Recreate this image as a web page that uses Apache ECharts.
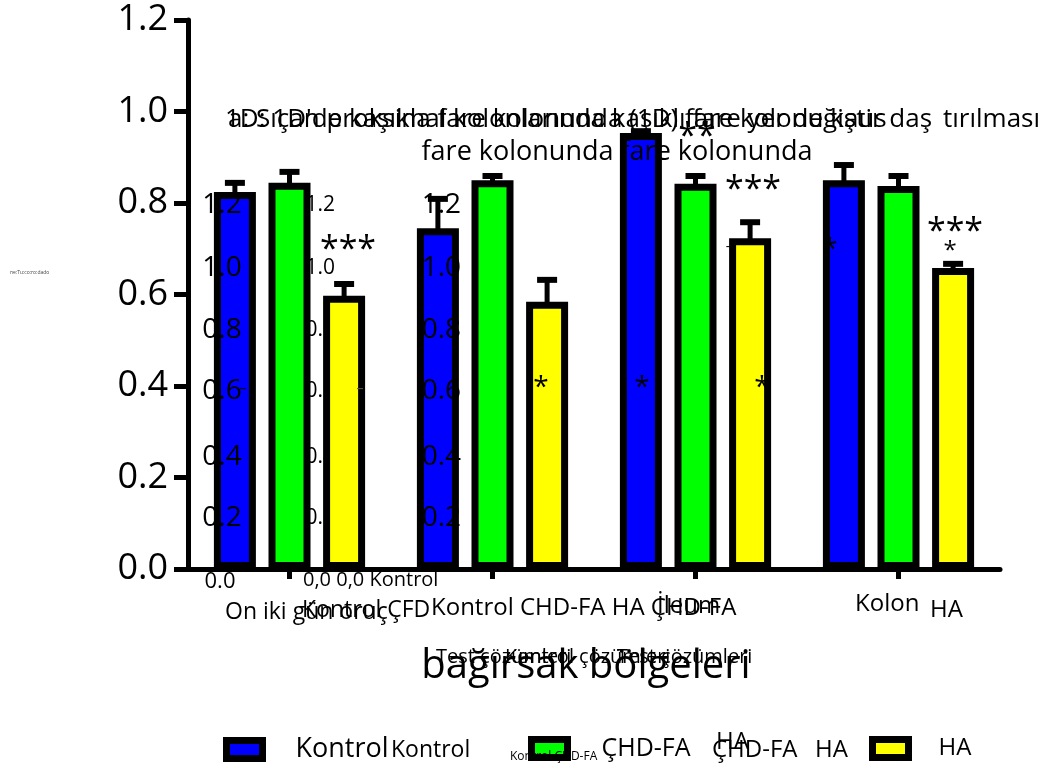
<!DOCTYPE html>
<html>
<head>
<meta charset="utf-8">
<script src="https://cdn.jsdelivr.net/npm/echarts@6/dist/echarts.min.js"></script>
<style>
  html, body { margin: 0; padding: 0; background: #fff; }
  #chart { width: 1055px; height: 768px; }
</style>
</head>
<body>
<div id="chart"></div>
<script>
// Bölge kategorileri ve seri adları
const categories = ['On iki gün oruç', 'Kontrol CHD-FA HA ÇHD-FA', 'İleum', 'Kolon'];
const seriesNames = ['Kontrol', 'ÇHD-FA', 'HA'];
const seriesColors = ['#0000ff', '#00ff00', '#ffff00'];

// Ortalama değerler ve hata çubukları (yalnızca yukarı)
const kontrolMean = [0.824, 0.745, 0.953, 0.85];
const kontrolErr  = [0.02, 0.064, 0.004, 0.033];
const chdMean     = [0.844, 0.85, 0.842, 0.837];
const chdErr      = [0.024, 0.009, 0.017, 0.022];
const haMean      = [0.597, 0.584, 0.723, 0.658];
const haErr       = [0.026, 0.048, 0.035, 0.009];

// Y ekseni
const yMin = 0, yMax = 1.2, yStep = 0.2;

// İç içe geçmiş yardımcı etiket sütunları
const ghostTicksA = ['1.2', '1.0', '0.8', '0.6', '0.4', '0.2'];
const ghostTicksB = ['1.2', '1.0', '0.8', '0.5', '0.4', '0.2'];

const FONT = '"Open Sans", "Noto Sans", sans-serif';
const BAR_W = 42, BAR_GAP = 0.30;

const means = [kontrolMean, chdMean, haMean];
const errs = [kontrolErr, chdErr, haErr];

function txt(text, x, y, size, opt) {
  opt = opt || {};
  const align = opt.align || 'left';
  return {
    type: 'text', x: x, y: y, z: opt.z != null ? opt.z : 100,
    silent: true,
    style: {
      text: text, x: 0, y: 0,
      font: size + 'px ' + FONT,
      fill: opt.color || '#000',
      align: align, textAlign: align,
      verticalAlign: 'middle', textVerticalAlign: 'middle'
    }
  };
}

const barSeries = seriesNames.map((name, s) => ({
  name: name,
  type: 'bar',
  data: means[s],
  barWidth: BAR_W,
  barGap: (BAR_GAP * 100) + '%',
  z: 2,
  itemStyle: { color: seriesColors[s], borderColor: '#000', borderWidth: 7 }
}));

const errSeries = seriesNames.map((name, s) => ({
  name: name,
  type: 'custom',
  z: 3,
  silent: true,
  encode: { x: 0, y: 1 },
  data: means[s].map((v, i) => [i, v, errs[s][i]]),
  renderItem: function (params, api) {
    const i = api.value(0), v = api.value(1), e = api.value(2);
    const base = api.coord([i, v]);
    const top = api.coord([i, v + e]);
    const x = base[0] + (s - 1) * BAR_W * (1 + BAR_GAP);
    return {
      type: 'group',
      children: [
        { type: 'line', shape: { x1: x, y1: base[1] + 3, x2: x, y2: top[1] },
          style: { stroke: '#000', lineWidth: 5 } },
        { type: 'line', shape: { x1: x - 10, y1: top[1], x2: x + 10, y2: top[1] },
          style: { stroke: '#000', lineWidth: 6 } }
      ]
    };
  }
}));

// Serbest metinler
const texts = [];
// başlık satırları
texts.push(txt("1D: 1D'de kaşıkla fare kolonunda (1D) fare kolonu kaus", 225, 120, 26));
texts.push(txt('a: Sıçan proksimal kolonlarında kaşıklı fare yer değiştir daş', 228, 120, 26));
texts.push(txt('tırılması', 943, 120, 26));
texts.push(txt('fare kolonunda fare kolonunda', 617, 152, 27, { align: 'center' }));
// yıldızlar
texts.push(txt('***', 348, 250, 34, { align: 'center' }));
texts.push(txt('**', 697, 137, 34, { align: 'center' }));
texts.push(txt('***', 753, 190, 34, { align: 'center' }));
texts.push(txt('***', 955, 232, 34, { align: 'center' }));
texts.push(txt('*', 950, 251, 24, { align: 'center' }));
texts.push(txt('*', 541, 388, 28, { align: 'center' }));
texts.push(txt('*', 642, 388, 28, { align: 'center' }));
texts.push(txt('*', 762, 388, 28, { align: 'center' }));
texts.push(txt('*', 830, 250, 28, { align: 'center' }));
texts.push(txt('-', 728, 247, 14, { align: 'center' }));
// iç etiket sütunları
const ghostY = [205, 268, 330, 391, 457, 518];
ghostTicksA.forEach((t, k) => texts.push(txt(t, 222, ghostY[k], 28, { align: 'center' })));
ghostTicksB.forEach((t, k) => texts.push(txt(t, 335, ghostY[k], 21, { align: 'right', z: 0 })));
ghostTicksA.forEach((t, k) => texts.push(txt(t, 461, ghostY[k], 28, { align: 'right' })));
texts.push(txt('–', 243, 389, 14, { align: 'center' }));
texts.push(txt('–', 360, 389, 14, { align: 'center', color: '#555' }));
texts.push(txt('ne:Tu:co:ro:dado', 10, 273, 5, { color: '#444' }));
// eksen altı etiketleri
texts.push(txt('0.0', 220, 582, 22, { align: 'center' }));
texts.push(txt('0,0 0,0 Kontrol', 303, 580, 20));
texts.push(txt(categories[0], 225, 612, 23));
texts.push(txt('Kontrol ÇFD', 302, 610, 23));
texts.push(txt(categories[1], 431, 608, 24));
texts.push(txt(categories[2], 657, 606, 24));
texts.push(txt(categories[3], 855, 604, 24));
texts.push(txt('HA', 930, 610, 24));
// eksen başlığı
texts.push(txt('Test çözümleri', 436, 657, 20));
texts.push(txt('Kontrol çözümleri', 505, 657, 20));
texts.push(txt('Test çözümleri', 617, 657, 20));
texts.push(txt('bağırsak bölgeleri', 586, 667, 40, { align: 'center' }));
// gösterge yanı metinler
texts.push(txt('Kontrol', 391, 750, 23));
texts.push(txt('Kontrol ÇHD-FA', 510, 757, 12));
texts.push(txt('ÇHD-FA', 712, 750, 24));
texts.push(txt('HA', 716, 742, 24));
texts.push(txt('HA', 815, 750, 24));

function legendFor(name, left, pad, size) {
  return {
    data: [name], left: left, top: 736, padding: 0,
    icon: 'rect', itemWidth: 36, itemHeight: 18,
    selectedMode: false,
    itemStyle: { borderColor: '#000', borderWidth: 7, borderRadius: 2 },
    formatter: '{t|{name}}',
    textStyle: {
      rich: { t: { fontSize: size, fontFamily: FONT, color: '#000', padding: [0, 0, 0, pad], lineHeight: 24 } }
    }
  };
}

const chart = echarts.init(document.getElementById('chart'), null, { renderer: 'canvas' });
chart.setOption({
  animation: false,
  backgroundColor: '#fff',
  grid: { left: 188, right: 55, top: 20, bottom: 199, containLabel: false },
  legend: [
    legendFor(seriesNames[0], 223, 28, 27),
    legendFor(seriesNames[1], 528, 29, 25),
    legendFor(seriesNames[2], 869, 25, 24)
  ],
  xAxis: {
    type: 'category',
    data: categories,
    axisLine: { lineStyle: { color: '#000', width: 5 } },
    axisTick: { show: true, alignWithLabel: true, length: 10, lineStyle: { color: '#000', width: 5 } },
    axisLabel: { show: false },
    splitLine: { show: false }
  },
  yAxis: {
    type: 'value',
    min: yMin, max: yMax, interval: yStep,
    axisLine: { show: true, lineStyle: { color: '#000', width: 5 } },
    axisTick: { show: true, length: 14, lineStyle: { color: '#000', width: 5 } },
    axisLabel: {
      fontSize: 36, fontFamily: FONT, color: '#000', margin: 20,
      formatter: v => v.toFixed(1)
    },
    splitLine: { show: false }
  },
  graphic: { elements: texts },
  series: barSeries.concat(errSeries)
});
</script>
</body>
</html>
